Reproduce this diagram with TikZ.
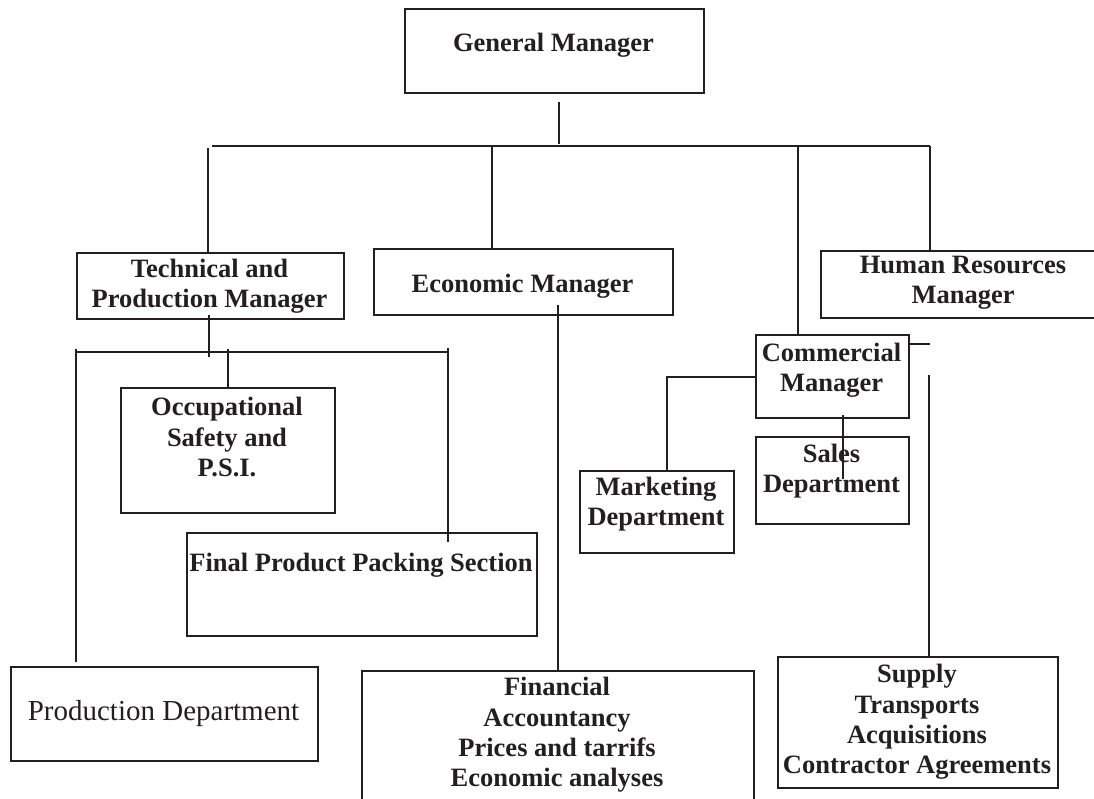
\documentclass[tikz,border=0pt]{standalone}
\usepackage{fontspec}
\setmainfont{Liberation Serif}
\usetikzlibrary{positioning,calc}
\definecolor{ink}{HTML}{231F20}

\tikzset{
  unit/.style={draw=ink, line width=1.9pt, anchor=north west, inner sep=0pt},
  wire/.style={ink, line width=1.6pt},
  caption/.style={font=\fontsize{26.5}{30.4}\selectfont\bfseries, text=ink, align=center, inner sep=0pt},
  plaincap/.style={font=\fontsize{29}{33}\selectfont, text=ink, align=center, inner sep=0pt}
}

\begin{document}
\begin{tikzpicture}[x=1pt, y=-1pt]
  \useasboundingbox (0,0) rectangle (1094,798);

  % boxes (top left corner, size)
  \node[unit, minimum width=299pt, minimum height=84pt]  (gm)    at (404,8)   {};
  \node[unit, minimum width=267pt, minimum height=66pt]  (tech)  at (76,252)  {};
  \node[unit, minimum width=299pt, minimum height=66pt]  (econ)  at (373,248) {};
  \node[unit, minimum width=286pt, minimum height=67pt]  (hr)    at (820,250) {};
  \node[unit, minimum width=153pt, minimum height=83pt]  (comm)  at (755,334) {};
  \node[unit, minimum width=214pt, minimum height=125pt] (occ)   at (120,387) {};
  \node[unit, minimum width=154pt, minimum height=82pt]  (mkt)   at (579,470) {};
  \node[unit, minimum width=153pt, minimum height=87pt]  (sales) at (755,436) {};
  \node[unit, minimum width=350pt, minimum height=103pt] (pack)  at (186,532) {};
  \node[unit, minimum width=280pt, minimum height=131pt] (supply) at (777,656) {};
  \node[unit, minimum width=307pt, minimum height=94pt]  (prod)  at (10,666)  {};
  \node[unit, minimum width=392pt, minimum height=140pt] (fin)   at (361,670) {};

  % texts
  \node[caption] (gmtext)    at (553.5,45) {General Manager};
  \node[caption] (techtext)  at (209.5,286) {Technical and\\Production Manager};
  \node[caption] (econtext)  at (522.5,286) {Economic Manager};
  \node[caption] (hrtext)    at (963,283)   {Human Resources\\Manager};
  \node[caption] (commtext)  at (831.5,370) {Commercial\\Manager};
  \node[caption] (occtext)   at (227,437)   {Occupational\\Safety and\\P.S.I.};
  \node[caption] (mkttext)   at (656,504)   {Marketing\\Department};
  \node[caption] (salestext) at (831.5,471) {Sales\\Department};
  \node[caption] (packtext)  at (361,565)   {Final Product Packing Section};
  \node[caption] (suptext)   at (917,722)   {Supply\\Transports\\Acquisitions\\Contractor Agreements};
  \node[plaincap] (prodtext) at (163.5,714) {Production Department};
  \node[caption] (fintext)   at (557,735)   {Financial\\Accountancy\\Prices and tarrifs\\Economic analyses};

  % main bus under the general manager
  \coordinate (busL) at (212,146);
  \coordinate (busR) at (930,146);
  \coordinate (techtap) at (208,148);
  \coordinate (econtap) at (492,146);
  \coordinate (commtap) at (798,146);
  \draw[wire] ([xshift=4.5pt,yshift=-8pt]gm.south) -- ++(0,42);
  \draw[wire] (busL) -- (busR);
  \draw[wire] (techtap) -- (techtap |- tech.north);
  \draw[wire] (econtap) -- (econtap |- econ.north);
  \draw[wire] (commtap) -- (commtap |- comm.north);
  \draw[wire] (busR) -- (busR |- hr.north);

  % technical branch
  \coordinate (subL) at (76,352);
  \coordinate (subR) at (448,352);
  \coordinate (occtap) at (228,349);
  \draw[wire] ([xshift=-1.5pt,yshift=5pt]tech.south) -- ++(0,42);
  \draw[wire] (subL) -- (subR);
  \draw[wire] ([yshift=3pt]subL) -- ([yshift=4pt]subL |- prod.north);
  \draw[wire] (occtap) -- (occtap |- occ.north);
  \draw[wire] ([yshift=4pt]subR) -- ([yshift=-10pt]subR |- pack.north);

  % economic branch
  \draw[wire] ([xshift=34.5pt,yshift=11pt]econ.south) -- ([xshift=34.5pt]econ.south |- fin.north);

  % commercial branch
  \coordinate (mktbend) at (667,377);
  \coordinate (stub) at (930,344);
  \coordinate (suptap) at (929,375);
  \draw[wire] (comm.west |- mktbend) -- (mktbend) -- (mktbend |- mkt.north);
  \draw[wire] (comm.east |- stub) -- (stub);
  \draw[wire] (suptap) -- (suptap |- supply.north);
  \draw[wire] ([xshift=10.5pt,yshift=4pt]comm.south) -- ++(0,64);
\end{tikzpicture}
\end{document}
